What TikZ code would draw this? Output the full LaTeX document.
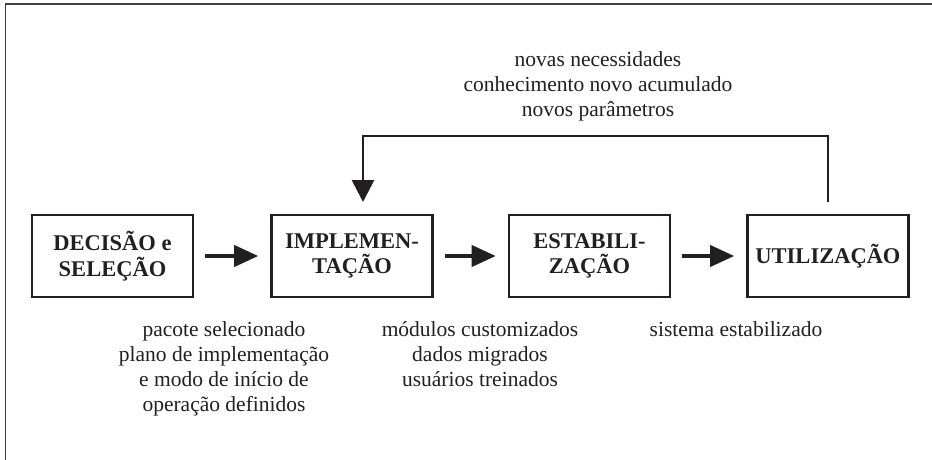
\documentclass[tikz,border=0pt]{standalone}
\usepackage{fontspec}
\setmainfont{Liberation Serif}
\usetikzlibrary{arrows.meta}
\definecolor{ink}{HTML}{231F20}
\definecolor{framecol}{HTML}{404040}
\tikzset{
  stage/.style={draw=ink, line width=2.6pt, minimum width=161pt, minimum height=82pt,
    inner sep=0pt, align=center, text=ink,
    font=\fontsize{22.5}{25.5}\selectfont\bfseries},
  flow/.style={draw=ink, line width=4pt, -{Triangle[length=24pt,width=21pt]}},
  fbline/.style={draw=ink, line width=2.8pt, -{Triangle[length=22pt,width=22pt]}},
  note/.style={align=center, text=ink, inner sep=0pt,
    font=\fontsize{21.5}{25}\selectfont},
}
\begin{document}
\begin{tikzpicture}[x=1pt, y=-1pt]
\useasboundingbox (0,0) rectangle (932,460);
% partial outer frame
\draw[framecol, line width=1.6pt] (5.5,460) -- (5.5,4) -- (932,4);
% stages
\node[stage] (b1) at (112.5,256) {DECISÃO e\\SELEÇÃO};
\node[stage] (b2) at (352,256) {IMPLEMEN-\\TAÇÃO};
\node[stage] (b3) at (589.5,256) {ESTABILI-\\ZAÇÃO};
\node[stage] (b4) at (828,256) {UTILIZAÇÃO};
% forward arrows
\draw[flow, shorten <=11pt, shorten >=12pt] (b1) -- (b2);
\draw[flow, shorten <=11pt, shorten >=12pt] (b2) -- (b3);
\draw[flow, shorten <=11pt, shorten >=12pt] (b3) -- (b4);
% feedback loop
\coordinate (fbS) at (828,202);
\coordinate (fbE) at (363,202);
\draw[fbline] (fbS) -- ++(0,-66) -| (fbE);
% labels
\node[note] (top) at (598,86) {novas necessidades\\conhecimento novo acumulado\\novos parâmetros};
\node[note, anchor=north] (l1) at (224,321) {pacote selecionado\\plano de implementação\\e modo de início de\\operação definidos};
\node[note, anchor=north] (l2) at (480,321) {módulos customizados\\dados migrados\\usuários treinados};
\node[note, anchor=north] (l3) at (736,321) {sistema estabilizado};
\end{tikzpicture}
\end{document}
